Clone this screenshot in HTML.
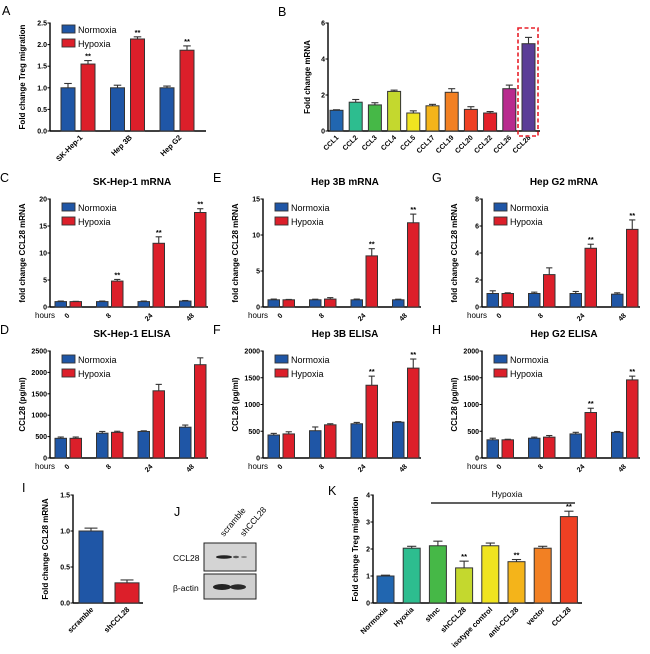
<!DOCTYPE html>
<html><head><meta charset="utf-8"><style>
html,body{margin:0;padding:0;background:#fff;}
svg{display:block;font-family:"Liberation Sans",Arial,sans-serif;}
</style></head><body>
<svg id="fig" width="650" height="654" viewBox="0 0 650 654" xmlns="http://www.w3.org/2000/svg"></svg>
<script>
// ---------- DATA ----------
const aCats=["SK-Hep-1","Hep 3B","Hep G2"];
const aNorm=[1.0,1.0,1.0]; const aNormErr=[0.1,0.06,0.04];
const aHyp=[1.55,2.13,1.87]; const aHypErr=[0.08,0.05,0.1];
const aTicks=["0.0","0.5","1.0","1.5","2.0","2.5"];

const bCats=["CCL1","CCL2","CCL3","CCL4","CCL5","CCL17","CCL19","CCL20","CCL22","CCL26","CCL28"];
const bVals=[1.15,1.6,1.45,2.2,1.0,1.4,2.15,1.2,1.0,2.35,4.85];
const bErr=[0.03,0.15,0.12,0.07,0.12,0.08,0.2,0.15,0.08,0.2,0.35];
const bTicks=["0","2","4","6"];

const hours=["0","8","24","48"];
const cNorm=[1,1,1,1.1]; const cNormErr=[0.1,0.1,0.1,0.1];
const cHyp=[1,4.8,11.8,17.5]; const cHypErr=[0.05,0.3,1.2,0.7];
const cTicks=["0","5","10","15","20"];
const eNorm=[1,1,1,1]; const eNormErr=[0.1,0.08,0.1,0.08];
const eHyp=[1,1.1,7.1,11.7]; const eHypErr=[0.05,0.2,1.0,1.2];
const eTicks=["0","5","10","15"];
const gNorm=[1,1,1,0.95]; const gNormErr=[0.2,0.1,0.15,0.1];
const gHyp=[1,2.4,4.35,5.75]; const gHypErr=[0.05,0.5,0.3,0.7];
const gTicks=["0","2","4","6","8"];
const dNorm=[460,580,620,720]; const dNormErr=[30,40,15,50];
const dHyp=[460,600,1570,2180]; const dHypErr=[30,25,150,160];
const dTicks=["0","500","1000","1500","2000","2500"];
const fNorm=[430,510,640,670]; const fNormErr=[30,70,25,10];
const fHyp=[450,620,1360,1680]; const fHypErr=[40,20,170,170];
const fTicks=["0","500","1000","1500","2000"];
const hNorm=[340,370,450,480]; const hNormErr=[30,20,30,15];
const hHyp=[340,390,850,1460]; const hHypErr=[10,30,80,70];
const hTicks=["0","500","1000","1500","2000"];

const iCats=["scramble","shCCL28"];
const iVals=[1.0,0.28]; const iErr=[0.04,0.04];
const iTicks=["0.0","0.5","1.0","1.5"];

const kCats=["Normoxia","Hyoxia","shnc","shCCL28","isotype control","anti-CCL28","vector","CCL28"];
const kVals=[1.0,2.03,2.12,1.3,2.12,1.53,2.03,3.2];
const kErr=[0.03,0.07,0.17,0.25,0.1,0.08,0.07,0.2];
const kStars=[false,false,false,true,false,true,false,true];
const kTicks=["0","1","2","3","4"];

// ---------- HELPERS ----------
const SVGNS="http://www.w3.org/2000/svg";
const fig=document.getElementById('fig');
const BLUE="#1f56a6", RED="#dc1f2a";
function mk(tag,attrs,parent,txt){const e=document.createElementNS(SVGNS,tag);for(const k in attrs)e.setAttribute(k,attrs[k]);if(txt!==undefined)e.textContent=txt;(parent||fig).appendChild(e);return e;}
function grp(name,parent){const g=mk('g',{},parent);


return g;}
function txt(parent,name,x,y,s,opt){opt=opt||{};const t=mk('text',{x:x,y:y,'font-size':opt.size||7,'font-weight':opt.weight||'bold','text-anchor':opt.anchor||'start',fill:'#000'},parent,s);
if(opt.rot!==undefined)t.setAttribute('transform','rotate('+opt.rot+' '+x+' '+y+')');


return t;}
function axes(g,x0,yTop,y0,xEnd,ticks,tmax){
  const sc=v=>y0-(v/tmax)*(y0-yTop);
  const ya=mk('line',{x1:x0,y1:yTop-0.5,x2:x0,y2:y0,stroke:'#000','stroke-width':1.4},g);
  
  
  const xa=mk('line',{x1:x0,y1:y0,x2:xEnd,y2:y0,stroke:'#000','stroke-width':1.4},g);
  
  
  ticks.forEach((t,i)=>{const v=tmax*i/(ticks.length-1);const y=sc(v);
    mk('line',{x1:x0-2.5,y1:y,x2:x0,y2:y,stroke:'#000','stroke-width':1},g);
    txt(g,'y-tick-label',x0-3,y+2.5,t,{anchor:'end',size:7});});
  return sc;
}
function bar(g,name,x,w,v,err,sc,color,star){
  const y0=sc(0),y=sc(v);
  const r=mk('rect',{x:x,y:y,width:w,height:y0-y,fill:color,stroke:'#333','stroke-width':1},g);
  
  
  const ye=sc(v+err),cx=x+w/2;
  mk('line',{x1:cx,y1:y,x2:cx,y2:ye,stroke:'#333','stroke-width':1.1},g);
  mk('line',{x1:cx-w*0.27,y1:ye,x2:cx+w*0.27,y2:ye,stroke:'#333','stroke-width':1.1},g);
  if(star)txt(g,'significance-stars',cx,ye-2,'**',{anchor:'middle',size:7.5});
}
function legend(g,x,y){
  [["Normoxia",BLUE],["Hypoxia",RED]].forEach((p,i)=>{
    const r=mk('rect',{x:x,y:y+i*14,width:13,height:8,fill:p[1],stroke:'#333','stroke-width':0.9},g);
    
    
    txt(g,'legend-label-'+p[0].toLowerCase(),x+16,y+i*14+8,p[0],{size:9,weight:'normal'});});
}
function letter(s,x,y){txt(fig,'panel-letter-'+s.toLowerCase(),x,y,s,{size:12.5,weight:'normal'});}

// ---------- PANEL A ----------
(function(){const g=grp('panel-a');letter('A',2,15);
 const sc=axes(g,50,23,131,206,aTicks,2.5);
 aCats.forEach((c,i)=>{const gx=61+i*49.5;
  bar(g,'bar-normoxia-'+i,gx,14,aNorm[i],aNormErr[i],sc,BLUE,false);
  bar(g,'bar-hypoxia-'+i,gx+20,14,aHyp[i],aHypErr[i],sc,RED,true);
  txt(g,'x-tick-label',gx+22,138,c,{anchor:'end',rot:-45,size:7.5});});
 legend(g,62,25);
 txt(g,'y-axis-title',25,77,'Fold change Treg migration',{anchor:'middle',rot:-90,size:8});
})();

// ---------- PANEL B ----------
(function(){const g=grp('panel-b');letter('B',278,16);
 const sc=axes(g,328,23,131,540,bTicks,6);
 bCats.forEach((c,i)=>{const x=330+i*19.2;
  const colors=["#2166b0","#2dbd8f","#46b847","#c4d82e","#f0e420","#f4b41a","#f28023","#ee4023","#e3202a","#b82b8e","#5b3d97"];
  bar(g,'bar-'+c.toLowerCase(),x,13,bVals[i],bErr[i],sc,colors[i],false);
  txt(g,'x-tick-label',x+9,138,c,{anchor:'end',rot:-45,size:7});});
 const box=mk('rect',{x:518,y:28,width:20,height:108,fill:'none',stroke:'#e8202a','stroke-width':1.6,'stroke-dasharray':'4,2.5'},g);
 
 
 txt(g,'y-axis-title',310,77,'Fold change mRNA',{anchor:'middle',rot:-90,size:8});
})();

// ---------- TIME PANELS ----------
function timePanel(name,L,ox,yTop,y0,title,ticks,tmax,norm,normErr,hyp,hypErr,stars,ylab){
 const g=grp(name);letter(L,ox+0,yTop-17);
 const x0=50+ox;
 const sc=axes(g,x0,yTop,y0,x0+158,ticks,tmax);
 hours.forEach((h,i)=>{const gx=x0+5+i*41.5;
  bar(g,'bar-normoxia-'+h+'h',gx,11.5,norm[i],normErr[i],sc,BLUE,false);
  bar(g,'bar-hypoxia-'+h+'h',gx+15,11.5,hyp[i],hypErr[i],sc,RED,stars[i]);
  txt(g,'x-tick-label',gx+15,y0+9,h,{anchor:'end',rot:-45,size:7});});
 txt(g,'x-axis-title',x0-15,y0+11,'hours',{size:8,weight:'normal'});
 legend(g,x0+12,yTop+4);
 txt(g,'chart-title',x0+82,yTop-14,title,{anchor:'middle',size:10});
 txt(g,'y-axis-title',x0-25,(yTop+y0)/2,ylab,{anchor:'middle',rot:-90,size:8});
}
timePanel('panel-c','C',0,199,307,'SK-Hep-1 mRNA',cTicks,20,cNorm,cNormErr,cHyp,cHypErr,[false,true,true,true],'fold change CCL28 mRNA');
timePanel('panel-e','E',213,199,307,'Hep 3B mRNA',eTicks,15,eNorm,eNormErr,eHyp,eHypErr,[false,false,true,true],'fold change CCL28 mRNA');
timePanel('panel-g','G',432,199,307,'Hep G2 mRNA',gTicks,8,gNorm,gNormErr,gHyp,gHypErr,[false,false,true,true],'fold change CCL28 mRNA');
timePanel('panel-d','D',0,351,458,'SK-Hep-1 ELISA',dTicks,2500,dNorm,dNormErr,dHyp,dHypErr,[false,false,false,false],'CCL28 (pg/ml)');
timePanel('panel-f','F',213,351,458,'Hep 3B ELISA',fTicks,2000,fNorm,fNormErr,fHyp,fHypErr,[false,false,true,true],'CCL28 (pg/ml)');
timePanel('panel-h','H',432,351,458,'Hep G2 ELISA',hTicks,2000,hNorm,hNormErr,hHyp,hHypErr,[false,false,true,true],'CCL28 (pg/ml)');

// ---------- PANEL I ----------
(function(){const g=grp('panel-i');letter('I',22,492);
 const sc=axes(g,73,495,603,143,iTicks,1.5);
 const cols=[BLUE,RED];
 iCats.forEach((c,i)=>{const x=79+i*36;
  bar(g,'bar-'+c.toLowerCase(),x,24,iVals[i],iErr[i],sc,cols[i],false);
  txt(g,'x-tick-label',x+15,610,c,{anchor:'end',rot:-45,size:7.5});});
 txt(g,'y-axis-title',48,549,'Fold change CCL28 mRNA',{anchor:'middle',rot:-90,size:8});
})();

// ---------- PANEL J (blot) ----------
(function(){const g=grp('panel-j');letter('J',174,516);
 txt(g,'lane-label-scramble',224,537,'scramble',{rot:-50,size:8.5,weight:'normal'});
 txt(g,'lane-label-shccl28',244,537,'shCCL28',{rot:-50,size:8.5,weight:'normal'});
 const b1=mk('rect',{x:204,y:543,width:52,height:28,fill:'#d4d4d4',stroke:'#222','stroke-width':1},g);
 
 
 const b2=mk('rect',{x:204,y:574,width:52,height:25,fill:'#d0d0d0',stroke:'#222','stroke-width':1},g);
 
 
 mk('ellipse',{cx:224,cy:557,rx:8,ry:1.8,fill:'#222'},g);
 mk('ellipse',{cx:236,cy:557,rx:3,ry:1.3,fill:'#555'},g);
 mk('ellipse',{cx:244,cy:557,rx:3,ry:1,fill:'#888'},g);
 mk('ellipse',{cx:222,cy:587,rx:9,ry:3,fill:'#222'},g);
 mk('ellipse',{cx:238,cy:587,rx:8,ry:2.7,fill:'#2a2a2a'},g);
 txt(g,'blot-label-ccl28',173,561,'CCL28',{size:8.5,weight:'normal'});
 txt(g,'blot-label-beta-actin',173,591,'β-actin',{size:8.5,weight:'normal'});
})();

// ---------- PANEL K ----------
(function(){const g=grp('panel-k');letter('K',328,495);
 const sc=axes(g,373,495,603,582,kTicks,4);
 const cols=["#2166b0","#2dbd8f","#46b847","#c4d82e","#f0e420","#f4b41a","#f28023","#ee4023"];
 kCats.forEach((c,i)=>{const x=377+i*26.2;
  bar(g,'bar-'+c.toLowerCase().replace(/ /g,'-'),x,17,kVals[i],kErr[i],sc,cols[i],kStars[i]);
  txt(g,'x-tick-label',x+11,610,c,{anchor:'end',rot:-45,size:7.5});});
 const l=mk('line',{x1:431,y1:503,x2:575,y2:503,stroke:'#000','stroke-width':1.2},g);
 
 
 txt(g,'hypoxia-label',507,497,'Hypoxia',{anchor:'middle',size:8.5,weight:'normal'});
 txt(g,'y-axis-title',358,549,'Fold change Treg migration',{anchor:'middle',rot:-90,size:8});
})();
</script>
</body></html>
